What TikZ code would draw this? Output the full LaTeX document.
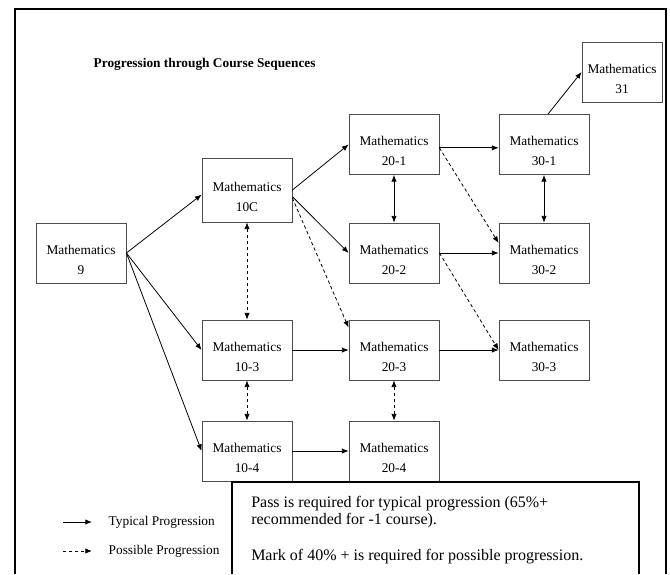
\documentclass[tikz,border=0pt]{standalone}
\usepackage{fontspec}
\setmainfont{Liberation Serif}
\usepackage{tikz}
\usetikzlibrary{arrows.meta}
\newcommand{\maths}[1]{\rule{0pt}{17pt}Mathematics\\#1}
\tikzset{course/.style={draw=black!70,line width=0.6pt,fill=white,
   minimum width=67.5pt,minimum height=45pt,inner sep=0pt,
   align=center,font=\fontsize{10}{15}\selectfont},
 >={Latex[length=5pt,width=4pt]},
 typical/.style={->,line width=0.6pt},
 possible/.style={typical,dash pattern=on 2.5pt off 2pt},
 legendtext/.style={anchor=west,font=\fontsize{10}{12}\selectfont},
 }

\begin{document}
\begin{tikzpicture}[x=0.75pt,y=-0.75pt]
        \useasboundingbox (0,0) rectangle (670,574);
        \draw[line width=1.5pt] (15,574) -- (15,9) -- (666,9) -- (666,574);
        \node[anchor=west,font=\bfseries\fontsize{10}{12}\selectfont] (title) at (89,64) {Progression through Course Sequences};

        \node[course] (m9) at (81,253) {\maths{9}};
        \node[course,minimum height=48pt] (m10c) at (247,190) {\maths{10C}};
        \node[course] (m103) at (247,350) {\maths{10-3}};
        \node[course] (m104) at (247,451) {\maths{10-4}};
        \node[course] (m201) at (394,144.5) {\maths{20-1}};
        \node[course] (m202) at (394,253) {\maths{20-2}};
        \node[course] (m203) at (394,350) {\maths{20-3}};
        \node[course] (m204) at (394,451) {\maths{20-4}};
        \node[course] (m301) at (544,144.5) {\maths{30-1}};
        \node[course] (m302) at (544,253) {\maths{30-2}};
        \node[course] (m303) at (544,350) {\maths{30-3}};
        \node[course,minimum width=60pt] (m31) at (622,72) {\maths{31}};

        \draw[typical] (m9.east) -- ([yshift=-3.5pt]m10c.west);
        \draw[typical] (m9.east) -- (m103.west);
        \draw[typical] (m9.east) -- (m104.west);
        \draw[typical] (m10c.east) -- (m201.west);
        \draw[typical] ([yshift=-5pt]m10c.east) -- (m202.west);
        \draw[possible] ([yshift=-6pt]m10c.east) -- ([yshift=-6pt]m203.north west);
        \draw[possible,<->] (m10c.south) -- (m103.north);
        \draw[typical] (m103.east) -- (m203.west);
        \draw[possible,<->] (m103.south) -- (m104.north);
        \draw[typical] (m104.east) -- (m204.west);
        \draw[typical,<->] (m201.south) -- (m202.north);
        \draw[possible,<->] (m203.south) -- (m204.north);
        \draw[typical] ([yshift=-2.5pt]m201.east) -- ([yshift=-2.5pt]m301.west);
        \draw[possible] ([yshift=-2.5pt]m201.east) -- ([yshift=7.5pt]m302.west);
        \draw[typical] (m202.east) -- (m302.west);
        \draw[possible] (m202.east) -- (m303.west);
        \draw[typical] (m203.east) -- (m303.west);
        \draw[typical,<->] (m301.south) -- (m302.north);
        \draw[typical] ([xshift=3pt]m301.north) -- (m31.west);

        % key
        \coordinate (t0) at (63,522);
        \coordinate (t1) at (92,522);
        \coordinate (p0) at (63,551);
        \coordinate (p1) at (92,551);
        \draw[typical] (t0) -- (t1);
        \draw[possible] (p0) -- (p1);
        \node[legendtext] (tlabel) at (104,522) {Typical Progression};
        \node[legendtext] (plabel) at (104,551) {Possible Progression};

        \draw[line width=1.5pt,fill=white] (232,574) -- (232,482) -- (639,482) -- (639,574);
        \node[anchor=north west,align=left,inner sep=0pt,font=\fontsize{12}{12.75}\selectfont] (note) at (251,496)
            {Pass is required for typical progression (65\%+\\recommended for -1 course).\\[14pt]Mark of 40\% + is required for possible progression.};
    \end{tikzpicture}
\end{document}
